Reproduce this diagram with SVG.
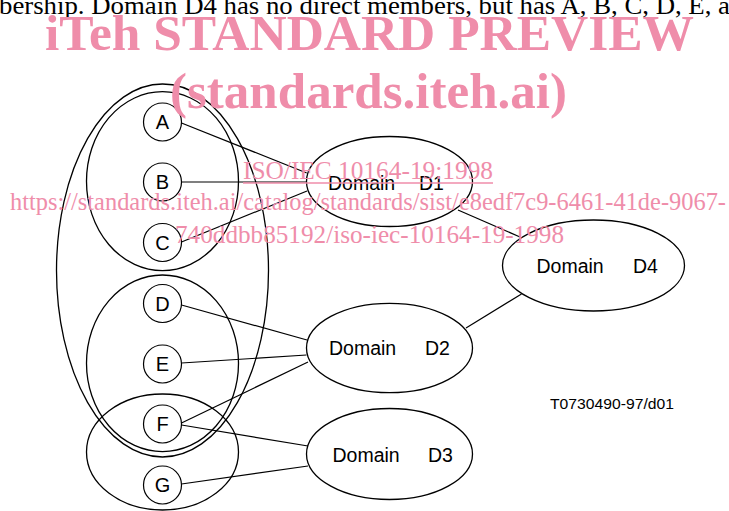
<svg xmlns="http://www.w3.org/2000/svg" width="729" height="511" viewBox="0 0 729 511">
  <style>
    .sh { fill: none; stroke: #000; stroke-width: 1.3; }
    .nd { fill: #fff; stroke: #000; stroke-width: 1.2; }
    .ln { stroke: #000; stroke-width: 1.2; fill: none; }
    .lt { font-family: "Liberation Sans", Arial, sans-serif; font-size: 20px; fill: #000; text-anchor: middle; }
    .dt { font-family: "Liberation Sans", Arial, sans-serif; font-size: 19.5px; fill: #000; }
    .wm { font-family: "Liberation Serif", "Times New Roman", serif; fill: #EF8DAA; }
  </style>
  <rect width="729" height="511" fill="#fff"/>
  <text x="-1" y="13.5" font-family="Liberation Serif, 'Times New Roman', serif" font-size="25" fill="#000" textLength="731" lengthAdjust="spacingAndGlyphs">bership. Domain D4 has no direct members, but has A, B, C, D, E, a</text>

  <g id="sets">
    <ellipse id="set-outer" class="sh" cx="162.5" cy="270.5" rx="106" ry="186.5"/>
    <ellipse id="set-ABC" class="sh" cx="162.5" cy="181.2" rx="76" ry="89.5"/>
    <ellipse id="set-DEF" class="sh" cx="162.5" cy="363.3" rx="76" ry="88.3"/>
    <ellipse id="set-FG" class="sh" cx="162.5" cy="452" rx="76" ry="58"/>
  </g>

  <g id="connectors">
    <line class="ln" x1="181.5" y1="123" x2="306.7" y2="173"/>
    <line class="ln" x1="181.5" y1="182" x2="306" y2="182"/>
    <line class="ln" x1="181.5" y1="242" x2="307" y2="191"/>
    <line class="ln" x1="181.5" y1="305" x2="307" y2="340"/>
    <line class="ln" x1="181.5" y1="363" x2="306.5" y2="355"/>
    <line class="ln" x1="181.5" y1="423" x2="308" y2="362"/>
    <line class="ln" x1="181.5" y1="425" x2="308" y2="446"/>
    <line class="ln" x1="181.5" y1="484" x2="308" y2="466"/>
    <line class="ln" x1="458" y1="210" x2="520" y2="237"/>
    <line class="ln" x1="466" y1="328" x2="521.5" y2="294"/>
  </g>

  <g id="A"><circle class="nd" cx="162.5" cy="122" r="19"/><text class="lt" x="162.5" y="129">A</text></g>
  <g id="B"><circle class="nd" cx="162.5" cy="182" r="19"/><text class="lt" x="162.5" y="189">B</text></g>
  <g id="C"><circle class="nd" cx="162.5" cy="242.5" r="19"/><text class="lt" x="162.5" y="249.5">C</text></g>
  <g id="D"><circle class="nd" cx="162.5" cy="303.5" r="19"/><text class="lt" x="162.5" y="310.5">D</text></g>
  <g id="E"><circle class="nd" cx="162.5" cy="364" r="19"/><text class="lt" x="162.5" y="371">E</text></g>
  <g id="F"><circle class="nd" cx="162.5" cy="424" r="19"/><text class="lt" x="162.5" y="431">F</text></g>
  <g id="G"><circle class="nd" cx="162.5" cy="485" r="19"/><text class="lt" x="162.5" y="492">G</text></g>

  <g id="D1"><ellipse class="sh" cx="389.5" cy="181.5" rx="83" ry="45"/><text class="dt" y="190"><tspan x="328">Domain</tspan><tspan x="419">D1</tspan></text></g>
  <g id="D2"><ellipse class="sh" cx="389.5" cy="348" rx="83" ry="44.7"/><text class="dt" y="355"><tspan x="329">Domain</tspan><tspan x="425">D2</tspan></text></g>
  <g id="D3"><ellipse class="sh" cx="389.5" cy="454" rx="83" ry="45.5"/><text class="dt" y="461.5"><tspan x="332.5">Domain</tspan><tspan x="428">D3</tspan></text></g>
  <g id="D4"><ellipse class="sh" cx="593.5" cy="265.5" rx="91" ry="45.5"/><text class="dt" y="272.5"><tspan x="536.5">Domain</tspan><tspan x="633">D4</tspan></text></g>

  <text x="550" y="408.5" font-family="Liberation Sans, Arial, sans-serif" font-size="15.5" fill="#000" textLength="124" lengthAdjust="spacingAndGlyphs">T0730490-97/d01</text>

  <g id="watermark">
    <text class="wm" x="45" y="50" font-size="50" font-weight="bold" textLength="649" lengthAdjust="spacingAndGlyphs">iTeh STANDARD PREVIEW</text>
    <text class="wm" x="170" y="108" font-size="50" font-weight="bold" textLength="397" lengthAdjust="spacingAndGlyphs">(standards.iteh.ai)</text>
    <text class="wm" x="243" y="178.5" font-size="25" textLength="250" lengthAdjust="spacingAndGlyphs">ISO/IEC 10164-19:1998</text>
    <line x1="243" y1="183" x2="493" y2="183" stroke="#EF8DAA" stroke-width="1.5"/>
    <text class="wm" x="10" y="209.5" font-size="25" textLength="716" lengthAdjust="spacingAndGlyphs">https://standards.iteh.ai/catalog/standards/sist/e8edf7c9-6461-41de-9067-</text>
    <text class="wm" x="175" y="243" font-size="25" textLength="389" lengthAdjust="spacingAndGlyphs">740ddbb85192/iso-iec-10164-19-1998</text>
  </g>
</svg>
